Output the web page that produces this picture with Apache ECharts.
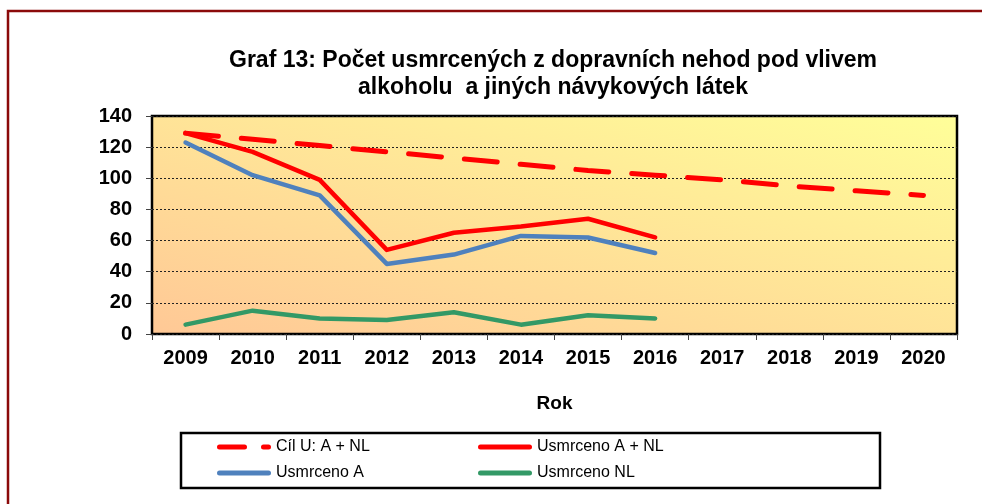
<!DOCTYPE html>
<html>
<head>
<meta charset="utf-8">
<script src="https://cdn.jsdelivr.net/npm/echarts@6/dist/echarts.min.js"></script>
<style>
html,body{margin:0;padding:0;background:#fff;}
#chart{width:982px;height:504px;}
</style>
</head>
<body>
<div id="chart"></div>
<script>
const categories = ['2009','2010','2011','2012','2013','2014','2015','2016','2017','2018','2019','2020'];
const cilU = [129,125,121,117,113,109,105,102,99,95,92,89];
const usmrcenoANL = [129,117,99,54,65,69,74,62];
const usmrcenoA = [123,102,89,45,51,63,62,52];
const usmrcenoNL = [6,15,10,9,14,6,12,10];
const yTicks = [0,20,40,60,80,100,120,140];

const chart = echarts.init(document.getElementById('chart'));
const FONT = 'Liberation Sans, Arial, sans-serif';

const ICON_SOLID = 'path://M2.5,0H51.5A2.5,2.5,0,0,1,51.5,5H2.5A2.5,2.5,0,0,1,2.5,0Z';
const ICON_DASH = 'path://M2.5,0H27.5A2.5,2.5,0,0,1,27.5,5H2.5A2.5,2.5,0,0,1,2.5,0Z M46.5,0H51.5A2.5,2.5,0,0,1,51.5,5H46.5A2.5,2.5,0,0,1,46.5,0Z';

function legendAt(name, left, top, icon) {
  return {
    data: [{name: name, icon: icon}], left: left, top: top, padding: 0,
    itemWidth: 54, itemHeight: 5, itemGap: 0,
    textStyle: {fontFamily: FONT, fontSize: 16, color: '#000'},
    selectedMode: false
  };
}

chart.setOption({
  animation: false,
  title: {
    text: 'Graf 13: Počet usmrcených z dopravních nehod pod vlivem\nalkoholu  a jiných návykových látek',
    left: 553, top: 47, padding: 0, textAlign: 'center',
    textStyle: {fontFamily: FONT, fontSize: 23, fontWeight: 'bold', color: '#000', lineHeight: 27}
  },
  grid: {
    left: 152, right: 25, top: 116, bottom: 170, show: true,
    borderColor: '#000', borderWidth: 2.5,
    backgroundColor: new echarts.graphic.LinearGradient(0, 1, 0.137, -0.86, [
      {offset: 0, color: '#FFC896'},
      {offset: 1, color: '#FFFF99'}
    ])
  },
  legend: [
    legendAt('Cíl U: A + NL', 217, 439, ICON_DASH),
    legendAt('Usmrceno A + NL', 478, 439, ICON_SOLID),
    legendAt('Usmrceno A', 217, 465, ICON_SOLID),
    legendAt('Usmrceno NL', 478, 465, ICON_SOLID)
  ],
  xAxis: {
    type: 'category', data: categories,
    name: 'Rok', nameLocation: 'middle', nameGap: 60,
    nameTextStyle: {fontFamily: FONT, fontSize: 19, fontWeight: 'bold', color: '#000'},
    axisLine: {show: false},
    axisTick: {show: true, length: 6, lineStyle: {color: '#444', width: 1}},
    axisLabel: {fontFamily: FONT, fontSize: 20, fontWeight: 'bold', color: '#000', margin: 14},
    splitLine: {show: false}
  },
  yAxis: {
    type: 'value', min: 0, max: 140, interval: 20,
    axisLine: {show: false},
    axisTick: {show: true, length: 6, lineStyle: {color: '#444', width: 1}},
    axisLabel: {fontFamily: FONT, fontSize: 20, fontWeight: 'bold', color: '#000', margin: 20,
      formatter: v => yTicks.includes(v) ? String(v) : ''},
    splitLine: {show: true, lineStyle: {color: '#222', width: 1, type: [2, 2]}}
  },
  series: [
    {name: 'Cíl U: A + NL', type: 'line', data: cilU, symbol: 'none', z: 3,
      lineStyle: {color: '#FF0000', width: 5, type: [33, 23], cap: 'round'}, itemStyle: {color: '#FF0000'}},
    {name: 'Usmrceno A + NL', type: 'line', data: usmrcenoANL, symbol: 'none', z: 4,
      lineStyle: {color: '#FF0000', width: 4.5, cap: 'round', join: 'round'}, itemStyle: {color: '#FF0000'}},
    {name: 'Usmrceno A', type: 'line', data: usmrcenoA, symbol: 'none', z: 3,
      lineStyle: {color: '#4F81BD', width: 4.5, cap: 'round', join: 'round'}, itemStyle: {color: '#4F81BD'}},
    {name: 'Usmrceno NL', type: 'line', data: usmrcenoNL, symbol: 'none', z: 3,
      lineStyle: {color: '#339966', width: 4.5, cap: 'round', join: 'round'}, itemStyle: {color: '#339966'}}
  ],
  graphic: [
    {type: 'rect', shape: {x: 8, y: 11, width: 1100, height: 700}, silent: true, z: -10,
      style: {fill: 'none', stroke: '#8B0A0A', lineWidth: 2.5}},
    {type: 'rect', shape: {x: 181, y: 433, width: 699, height: 55}, silent: true,
      style: {fill: 'none', stroke: '#000', lineWidth: 2.5}}
  ]
});
</script>
</body>
</html>
